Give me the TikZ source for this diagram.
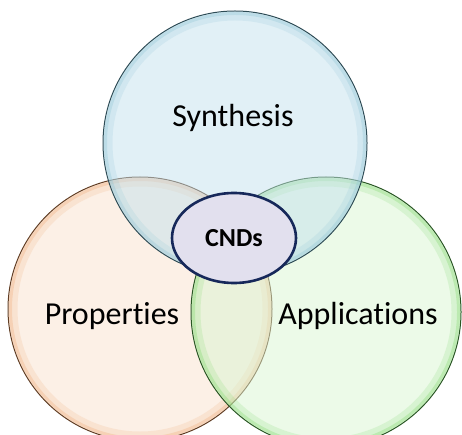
\documentclass[tikz,border=0pt]{standalone}
\usepackage{fontspec}
\setmainfont{Carlito}[Ligatures={NoCommon}]
\usetikzlibrary{positioning, shapes.geometric}

\definecolor{synthfill}{RGB}{195,225,237}
\definecolor{synthrim}{RGB}{140,195,212}
\definecolor{synthline}{RGB}{45,75,85}
\definecolor{propfill}{RGB}{249,225,205}
\definecolor{proprim}{RGB}{238,170,118}
\definecolor{propline}{RGB}{95,60,35}
\definecolor{appfill}{RGB}{217,245,209}
\definecolor{apprim}{RGB}{125,215,105}
\definecolor{appline}{RGB}{40,85,35}
\definecolor{cndfill}{RGB}{226,224,238}
\definecolor{cndline}{RGB}{22,40,90}

\begin{document}
\begin{tikzpicture}[
		x=1pt, y=-1pt,
		font=\fontsize{32}{38}\selectfont,
		bubble/.style={circle, inner sep=0pt, minimum size=#1, fill opacity=0.5, line width=1pt},
		rim/.style={line width=9pt, draw opacity=0.18},
		innerrim/.style={line width=3pt, draw opacity=0.3}
		]
		
		\useasboundingbox (0,0) rectangle (462,435);
		
		% ==========================================
		% The three fields
		% ==========================================
		\node (props) [bubble=264pt, fill=propfill, draw=propline] at (140,309) {};
		\draw[rim, proprim] (props.center) circle[radius=127pt];
		\draw[innerrim, proprim] (props.center) circle[radius=129.5pt];
		
		\node (apps) [bubble=270pt, fill=appfill, draw=appline] at (326,312) {};
		\draw[rim, apprim] (apps.center) circle[radius=130pt];
		\draw[innerrim, apprim] (apps.center) circle[radius=132.5pt];
		
		\node (synth) [bubble=264pt, fill=synthfill, draw=synthline] at (235,143) {};
		\draw[rim, synthrim] (synth.center) circle[radius=127pt];
		\draw[innerrim, synthrim] (synth.center) circle[radius=129.5pt];
		
		% ==========================================
		% Labels
		% ==========================================
		\node (synthlabel) at ([xshift=-2pt, yshift=25pt]synth.center) {Synthesis};
		\node (propslabel) at ([xshift=-28pt, yshift=-7pt]props.center) {Properties};
		\node (appslabel) at ([xshift=32pt, yshift=-4pt]apps.center) {Applications};
		
		% Core of the diagram
		\node (cnds) [ellipse, draw=cndline, fill=cndfill, line width=2.6pt,
			minimum width=124pt, minimum height=90pt, inner sep=0pt,
			font=\fontsize{26}{30}\selectfont\bfseries] at (234,238) {CNDs};
		
	\end{tikzpicture}
\end{document}
